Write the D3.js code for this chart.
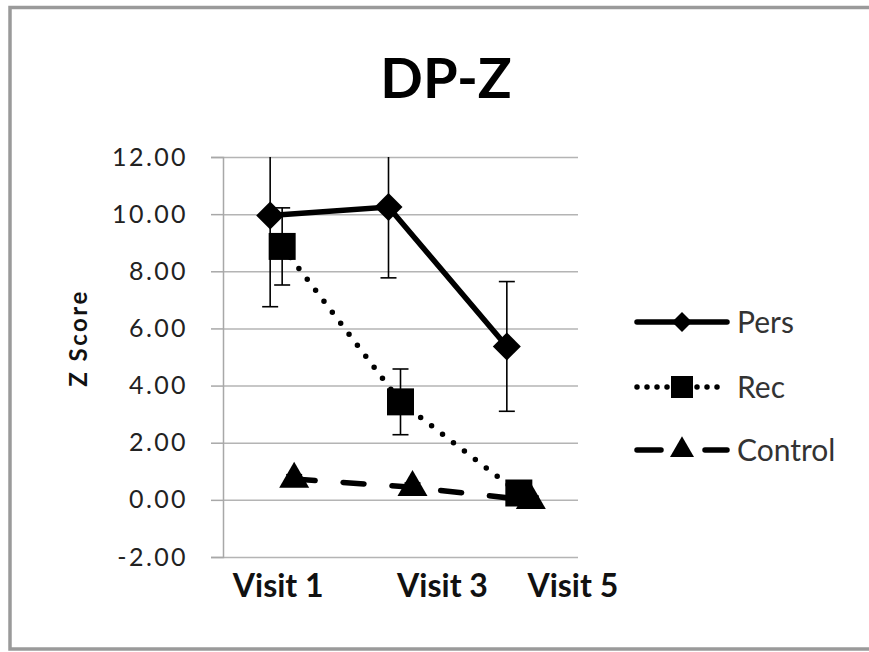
<!DOCTYPE html>
<html>
<head>
<meta charset="utf-8">
<title>DP-Z</title>
<script src="https://d3js.org/d3.v7.min.js"></script>
<style>
  html, body { margin: 0; background: #fff; overflow: hidden; }
  svg { display: block; font-family: Lato, "Open Sans", sans-serif; }
</style>
</head>
<body>
<div id="chart"></div>
<script>
// data
var visits = ["Visit 1", "Visit 3", "Visit 5"];
var yTicks = [-2, 0, 2, 4, 6, 8, 10, 12];

var persMean = [9.95, 10.25, 5.37];
var persErr  = [3.19, 2.48, 2.27];
var recMean  = [8.87, 3.43, 0.24];
var recErr   = [1.35, 1.15, 0.2];
var ctrlMean = [0.73, 0.44, -0.02];
var ctrlErr  = [0.15, 0.15, 0.15];

// k converts wanted marker width into d3 symbol area
var series = [
  {name: "Pers",    mean: persMean, err: persErr, shift: -12, dash: null,     cap: "butt",  symbol: d3.symbolDiamond2,  k: 1.2525, size: 28, lsize: 20},
  {name: "Rec",     mean: recMean,  err: recErr,  shift: 0,   dash: "0 13.8", cap: "round", symbol: d3.symbolSquare2,   k: 0.8862, size: 27, lsize: 22},
  {name: "Control", mean: ctrlMean, err: ctrlErr, shift: 12,  dash: "21 28",  cap: "round", symbol: d3.symbolTriangle2, k: 1.182,  size: 30, lsize: 24}
];

// layout
var W = 869, H = 652;
var plotL = 223, plotR = 578, plotT = 157, plotB = 557;
var labelShift = [-4, 42, 54];  // x labels sit off their band centres in the original

var svg = d3.select("#chart").append("svg")
    .attr("width", W)
    .attr("height", H);

// outer frame, right side is cut off in the original
svg.append("path")
    .attr("d", "M" + (W + 10) + ",7.5H10V649H" + (W + 10))
    .attr("fill", "none")
    .attr("stroke", "#9a9a9a")
    .attr("stroke-width", 3.5);

var x = d3.scaleBand().domain(visits).range([plotL, plotR]);
var y = d3.scaleLinear().domain([-2, 12]).range([plotB, plotT]);

// grid
svg.append("g")
    .attr("transform", "translate(" + plotL + ",0)")
    .call(d3.axisLeft(y).tickValues(yTicks).tickSize(-(plotR - plotL)).tickFormat(""))
    .call(function(g) {
      g.select(".domain").remove();
      g.selectAll("line").attr("stroke", "#b4b4b4").attr("stroke-width", 1.5);
    });

// y axis
svg.append("g")
    .attr("transform", "translate(" + plotL + ",0)")
    .call(d3.axisLeft(y).tickValues(yTicks).tickSize(12).tickPadding(23)
      .tickFormat(function(d) { return d.toFixed(2); }))
    .call(function(g) {
      g.select(".domain").attr("stroke", "#a8a8a8").attr("stroke-width", 1.5);
      g.selectAll("line").attr("stroke", "#a8a8a8").attr("stroke-width", 1.5);
      g.selectAll("text")
        .attr("font-family", "Lato, sans-serif")
        .attr("font-size", 25)
        .attr("letter-spacing", 2.4)
        .attr("fill", "#222");
    });

// x axis labels
svg.append("g")
    .attr("transform", "translate(0," + plotB + ")")
    .call(d3.axisBottom(x).tickSize(0).tickPadding(17))
    .call(function(g) {
      g.select(".domain").remove();
      g.selectAll("text")
        .attr("font-family", "Lato, sans-serif")
        .attr("font-size", 32)
        .attr("font-weight", "bold")
        .attr("fill", "#111")
        .attr("dx", function(d, i) { return labelShift[i]; });
    });

// y title
svg.append("text")
    .attr("transform", "translate(87,338) rotate(-90)")
    .attr("text-anchor", "middle")
    .attr("font-size", 24)
    .attr("font-weight", "bold")
    .attr("letter-spacing", 2.5)
    .attr("fill", "#111")
    .text("Z Score");

// chart title
svg.append("text")
    .attr("x", 446).attr("y", 98)
    .attr("text-anchor", "middle")
    .attr("font-size", 56)
    .attr("font-weight", "bold")
    .attr("fill", "#000")
    .text("DP-Z");

svg.append("clipPath").attr("id", "plot")
  .append("rect")
    .attr("x", plotL - 30).attr("y", plotT)
    .attr("width", plotR - plotL + 60).attr("height", plotB - plotT);

function px(s, i) { return x(visits[i]) + x.bandwidth() / 2 + s.shift; }
function area(s, w) { return Math.pow(w / s.k, 2); }

series.forEach(function(s) {
  var g = svg.append("g");
  var idx = d3.range(visits.length);

  // error bars
  var eb = g.append("g").attr("clip-path", "url(#plot)")
      .attr("stroke", "#000").attr("stroke-width", 1.6);
  idx.forEach(function(i) {
    var cx = px(s, i), hi = y(s.mean[i] + s.err[i]), lo = y(s.mean[i] - s.err[i]);
    eb.append("line").attr("x1", cx).attr("x2", cx).attr("y1", hi).attr("y2", lo);
    eb.append("line").attr("x1", cx - 8).attr("x2", cx + 8).attr("y1", hi).attr("y2", hi);
    eb.append("line").attr("x1", cx - 8).attr("x2", cx + 8).attr("y1", lo).attr("y2", lo);
  });

  var line = d3.line()
      .x(function(i) { return px(s, i); })
      .y(function(i) { return y(s.mean[i]); });

  g.append("path")
      .datum(idx)
      .attr("d", line)
      .attr("fill", "none")
      .attr("stroke", "#000")
      .attr("stroke-width", 5.5)
      .attr("stroke-linecap", s.cap)
      .attr("stroke-dasharray", s.dash);

  g.selectAll(".mk")
    .data(idx)
    .join("path")
      .attr("class", "mk")
      .attr("transform", function(i) { return "translate(" + px(s, i) + "," + y(s.mean[i]) + ")"; })
      .attr("d", d3.symbol().type(s.symbol).size(area(s, s.size)))
      .attr("fill", "#000");
});

// legend
var legend = svg.append("g");
var legendY = [322, 387, 450];
series.forEach(function(s, k) {
  var ly = legendY[k];
  legend.append("line")
      .attr("x1", 637).attr("x2", 727)
      .attr("y1", ly).attr("y2", ly)
      .attr("stroke", "#000")
      .attr("stroke-width", 5.5)
      .attr("stroke-linecap", "round")
      .attr("stroke-dasharray", s.name === "Rec" ? "0 10" : (s.name === "Control" ? "24 44" : null));
  legend.append("path")
      .attr("transform", "translate(682," + ly + ")")
      .attr("d", d3.symbol().type(s.symbol).size(area(s, s.lsize)))
      .attr("fill", "#000");
  legend.append("text")
      .attr("x", 737).attr("y", ly + 11)
      .attr("font-size", 30)
      .attr("fill", "#333")
      .text(s.name);
});
</script>
</body>
</html>
